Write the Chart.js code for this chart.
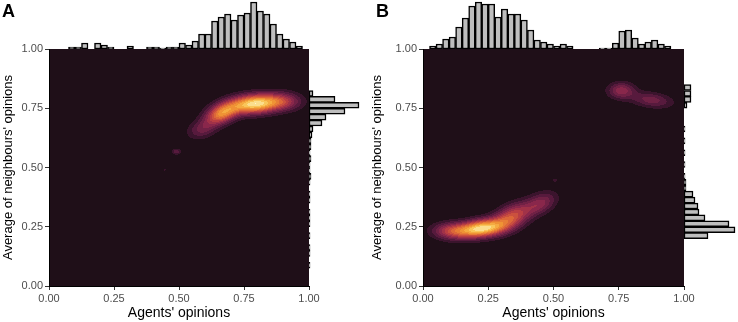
<!DOCTYPE html>
<html>
<head>
<meta charset="utf-8">
<script src="https://cdn.jsdelivr.net/npm/chart.js@4.4.1/dist/chart.umd.min.js"></script>
<style>
  body { margin: 0; background: #fff; }
  #wrap { position: relative; width: 738px; height: 322px; overflow: hidden; }
  canvas { position: absolute; }
  .tag { position: absolute; font: bold 18px 'Liberation Sans', Arial, sans-serif; color: #000; }
</style>
</head>
<body>
<div id="wrap">
  <canvas id="mainA" width="369" height="322" style="left:0;top:0"></canvas>
  <canvas id="topA" width="260" height="49" style="left:49px;top:0"></canvas>
  <canvas id="rightA" width="60" height="237" style="left:309px;top:49px"></canvas>
  <canvas id="mainB" width="369" height="322" style="left:369px;top:0"></canvas>
  <canvas id="topB" width="261" height="49" style="left:423px;top:0"></canvas>
  <canvas id="rightB" width="54" height="237" style="left:684px;top:49px"></canvas>
  <div class="tag" style="left:2px;top:1px">A</div>
  <div class="tag" style="left:376px;top:1px">B</div>
</div>
<script>
// axis ticks
const tickValues = [0, 0.25, 0.5, 0.75, 1];
const xTitle = "Agents' opinions";
const yTitle = "Average of neighbours' opinions";

// 40 histogram bins of width 0.025, from 0 to 1
const binLabels = Array.from({ length: 40 }, (_, i) => (i * 0.025).toFixed(3));

// marginal histogram counts
const topHistA = [0, 0, 0, 2, 2, 6, 0, 6, 4, 2, 0, 0, 3, 0, 0, 2, 2, 1, 2, 2,
                  6, 4, 8, 15, 15, 28, 32, 35, 29, 34, 36, 47, 38, 35, 25, 15, 10, 7, 3, 0];
const rightHistA = [0, 0, 0, 1, 0, 1, 1, 0, 1, 0, 1, 1, 1, 0, 1, 1, 0, 1, 2, 1,
                    1, 2, 1, 2, 2, 3, 4, 13, 17, 36, 50, 26, 4, 0, 0, 0, 0, 0, 0, 0];
const topHistB = [0, 3, 5, 10, 12, 22, 31, 43, 47, 45, 45, 32, 40, 35, 35, 29, 19, 9, 7, 5,
                  3, 5, 3, 0, 0, 0, 0, 1, 1, 6, 18, 19, 11, 5, 7, 9, 5, 3, 0, 0];
const rightHistB = [0, 0, 0, 0, 0, 0, 0, 0, 24, 51, 45, 21, 15, 14, 11, 9, 2, 2, 1, 0,
                    1, 0, 1, 0, 1, 0, 1, 0, 0, 0, 3, 7, 7, 7, 0, 0, 0, 0, 0, 0];

// density clusters: [x, y, spreadX, spreadY, angleDeg, weight]
const densityA = [
  [0.79, 0.768, 0.065, 0.027, 5, 1.0],
  [0.665, 0.728, 0.045, 0.027, 25, 0.72],
  [0.90, 0.778, 0.050, 0.026, 0, 0.35],
  [0.59, 0.662, 0.040, 0.026, 20, 0.24],
  [0.49, 0.567, 0.013, 0.009, 0, 0.2],
  [0.445, 0.490, 0.005, 0.005, 0, 0.1]
];
const densityB = [
  [0.225, 0.243, 0.062, 0.025, 8, 1.0],
  [0.11, 0.233, 0.050, 0.024, 0, 0.45],
  [0.34, 0.292, 0.055, 0.032, 30, 0.55],
  [0.45, 0.348, 0.045, 0.028, 30, 0.32],
  [0.76, 0.825, 0.035, 0.024, 0, 0.35],
  [0.875, 0.785, 0.055, 0.022, -8, 0.27],
  [0.506, 0.447, 0.008, 0.006, 0, 0.13]
];

// colour ramp for the density (dark -> magenta -> orange -> pale yellow)
const ramp = [
  [0.00, [31, 15, 24]],
  [0.06, [55, 19, 42]],
  [0.15, [90, 27, 63]],
  [0.30, [142, 40, 76]],
  [0.45, [192, 66, 66]],
  [0.60, [226, 112, 55]],
  [0.75, [243, 158, 52]],
  [0.88, [250, 206, 98]],
  [1.00, [253, 246, 204]]
];
const levels = 14;

function rampColor(f) {
  for (let k = 1; k < ramp.length; k++) {
    if (f <= ramp[k][0]) {
      const [f0, c0] = ramp[k - 1], [f1, c1] = ramp[k];
      const t = (f - f0) / (f1 - f0);
      return c0.map((c, i) => Math.round(c + (c1[i] - c) * t));
    }
  }
  return ramp[ramp.length - 1][1];
}

const densityPlugin = {
  id: 'density',
  beforeDraw(chart, args, opts) {
    const { ctx, chartArea: a, scales: { x, y } } = chart;
    const w = Math.round(a.right - a.left), h = Math.round(a.bottom - a.top);
    const blobs = opts.blobs.map(b => {
      const r = b[4] * Math.PI / 180;
      return { cx: b[0], cy: b[1], sx: b[2], sy: b[3], c: Math.cos(r), s: Math.sin(r), wt: b[5] };
    });
    const vals = new Float32Array(w * h);
    let max = 0;
    for (let j = 0; j < h; j++) {
      const yv = y.getValueForPixel(a.top + j + 0.5);
      for (let i = 0; i < w; i++) {
        const xv = x.getValueForPixel(a.left + i + 0.5);
        let d = 0;
        for (const b of blobs) {
          const dx = xv - b.cx, dy = yv - b.cy;
          const u = (dx * b.c + dy * b.s) / b.sx;
          const v = (-dx * b.s + dy * b.c) / b.sy;
          d += b.wt * Math.exp(-0.5 * (u * u + v * v));
        }
        vals[j * w + i] = d;
        if (d > max) max = d;
      }
    }
    const off = document.createElement('canvas');
    off.width = w; off.height = h;
    const octx = off.getContext('2d');
    const img = octx.createImageData(w, h);
    for (let p = 0; p < vals.length; p++) {
      const f = Math.floor(vals[p] / max * levels) / levels;
      const col = rampColor(f);
      img.data[p * 4] = col[0];
      img.data[p * 4 + 1] = col[1];
      img.data[p * 4 + 2] = col[2];
      img.data[p * 4 + 3] = 255;
    }
    octx.putImageData(img, 0, 0);
    ctx.drawImage(off, a.left, a.top);
  }
};

Chart.defaults.font.family = "'Liberation Sans', Arial, sans-serif";

function axis(title, titleSize, fit) {
  return {
    type: 'linear', min: 0, max: 1,
    afterBuildTicks: s => { s.ticks = tickValues.map(v => ({ value: v })); },
    ticks: { callback: v => v.toFixed(2), color: '#4d4d4d', font: { size: 11 },
             padding: 2, maxRotation: 0, autoSkip: false },
    grid: { drawOnChartArea: false, tickLength: 4, color: '#333', tickWidth: 1 },
    border: { color: '#000', width: 1 },
    title: { display: true, text: title, color: '#000', font: { size: titleSize }, padding: { top: 1, bottom: 0 } },
    afterFit: fit
  };
}

function mainChart(id, blobs, yWidth, rightPad) {
  new Chart(document.getElementById(id), {
    type: 'scatter',
    data: { datasets: [] },
    options: {
      responsive: false, animation: false, events: [],
      layout: { padding: { top: 49, right: rightPad, left: 0, bottom: 0 }, autoPadding: false },
      plugins: { legend: { display: false }, tooltip: { enabled: false }, density: { blobs: blobs } },
      scales: {
        x: axis(xTitle, 14, s => { s.height = 36; }),
        y: axis(yTitle, 13, s => { s.width = yWidth; })
      }
    },
    plugins: [densityPlugin]
  });
}

function histChart(id, counts, maxCount, horizontal) {
  new Chart(document.getElementById(id), {
    type: 'bar',
    data: {
      labels: binLabels,
      datasets: [{
        data: counts,
        backgroundColor: '#bebebe', borderColor: '#000', borderWidth: 1.5, borderSkipped: false,
        barPercentage: 1, categoryPercentage: 1
      }]
    },
    options: {
      indexAxis: horizontal ? 'y' : 'x',
      responsive: false, animation: false, events: [],
      layout: { padding: 0, autoPadding: false },
      plugins: { legend: { display: false }, tooltip: { enabled: false } },
      scales: horizontal
        ? { y: { display: false, reverse: true }, x: { display: false, min: 0, max: maxCount } }
        : { x: { display: false }, y: { display: false, min: 0, max: maxCount } }
    }
  });
}

mainChart('mainA', densityA, 49, 60);
histChart('topA', topHistA, 49, false);
histChart('rightA', rightHistA, 60, true);

mainChart('mainB', densityB, 54, 54);
histChart('topB', topHistB, 49, false);
histChart('rightB', rightHistB, 54, true);
</script>
</body>
</html>
